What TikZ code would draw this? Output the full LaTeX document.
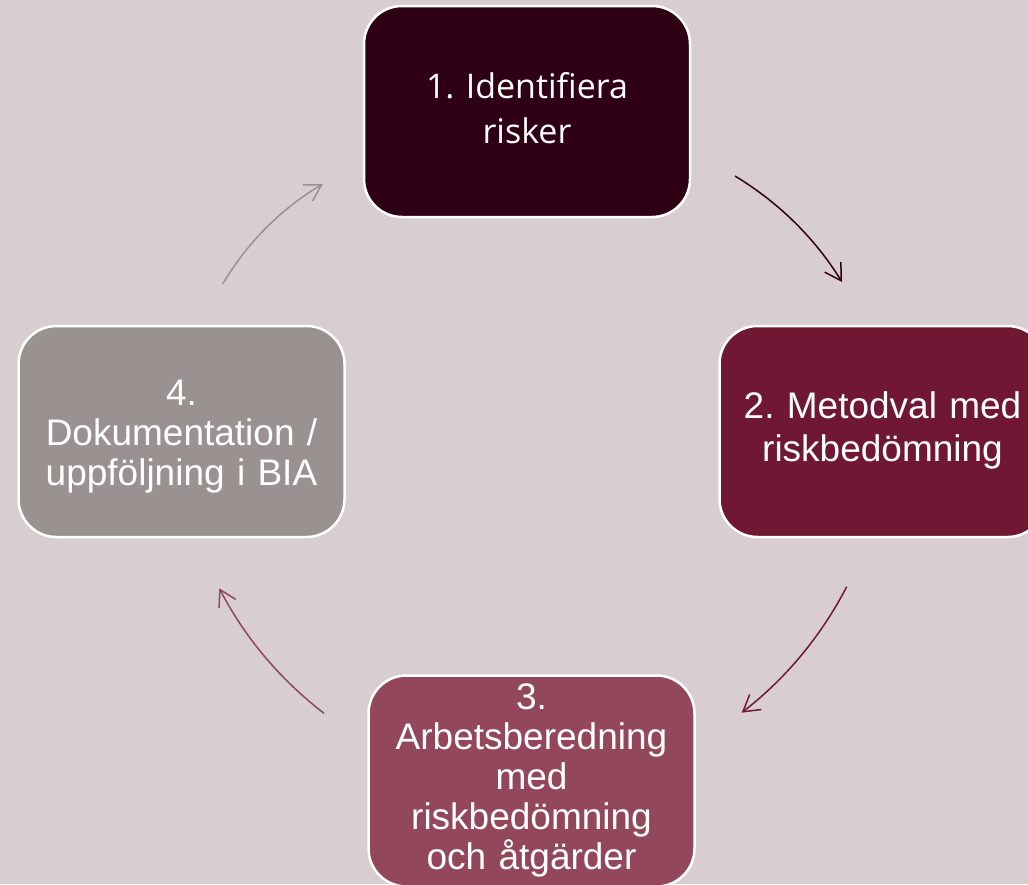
\documentclass[tikz,border=0pt]{standalone}
\usepackage{fontspec}
\setmainfont{Liberation Sans}
\newfontfamily\boxonefont{Open Sans}
\usetikzlibrary{arrows.meta}
\definecolor{bgc}{HTML}{D8CDD1}
\definecolor{cone}{HTML}{2F0014}
\definecolor{ctwo}{HTML}{701733}
\definecolor{cthree}{HTML}{93475B}
\definecolor{cfour}{HTML}{9A9291}
\lineskiplimit=-100pt
\frenchspacing
\begin{document}
\frenchspacing
\begin{tikzpicture}[x=1pt,y=-1pt,
  stepbox/.style={draw=white, line width=2.5pt, rounded corners=38pt,
    minimum width=326pt, minimum height=211pt, inner sep=0pt,
    text=white, text width=320pt, align=center},
  cyc/.style={line width=1.5pt, -{Straight Barb[length=16pt,width=19pt]}}]
\fill[bgc] (0,0) rectangle (1028,884);
\useasboundingbox (0,0) rectangle (1028,884);
% boxes
\node[stepbox, fill=cone, font=\boxonefont\fontsize{34}{45}\selectfont\frenchspacing] (s1) at (527,111.5)
  {\strut 1. Identifiera\\risker\strut};
\node[stepbox, fill=ctwo, font=\fontsize{37}{43}\selectfont\frenchspacing] (s2) at (882.5,431.5)
  {\strut 2. Metodval med\\riskbedömning\strut};
\node[stepbox, fill=cthree, font=\fontsize{37}{40}\selectfont\frenchspacing] (s3) at (531.5,781)
  {\strut 3.\\Arbetsberedning\\med\\riskbedömning\\och åtgärder\strut};
\node[stepbox, fill=cfour, font=\fontsize{37}{40}\selectfont\frenchspacing] (s4) at (181.5,431.5)
  {\rule{0pt}{40pt}4.\\Dokumentation /\\uppföljning i BIA\strut};
% arrow end points
\coordinate (a1s) at (735,176);   \coordinate (a1e) at (842,282);
\coordinate (a2s) at (846.7,586.7); \coordinate (a2e) at (741.7,712.7);
\coordinate (a3s) at (324,713.3); \coordinate (a3e) at (219.3,588.3);
\coordinate (a4s) at (222.7,284); \coordinate (a4e) at (322.7,184);
% arrows
\draw[cyc, draw=cone] (a1s) .. controls (779.1,202.8) and (814.8,238.1) .. (a1e);
\draw[cyc, draw=ctwo] (a2s) .. controls (820.9,636.4) and (785.9,678.4) .. (a2e);
\draw[cyc, draw=cthree] (a3s) .. controls (279.9,679.3) and (245.0,637.7) .. (a3e);
\draw[cyc, draw=cfour] (a4s) .. controls (247.6,242.2) and (280.9,208.9) .. (a4e);
\end{tikzpicture}
\end{document}
